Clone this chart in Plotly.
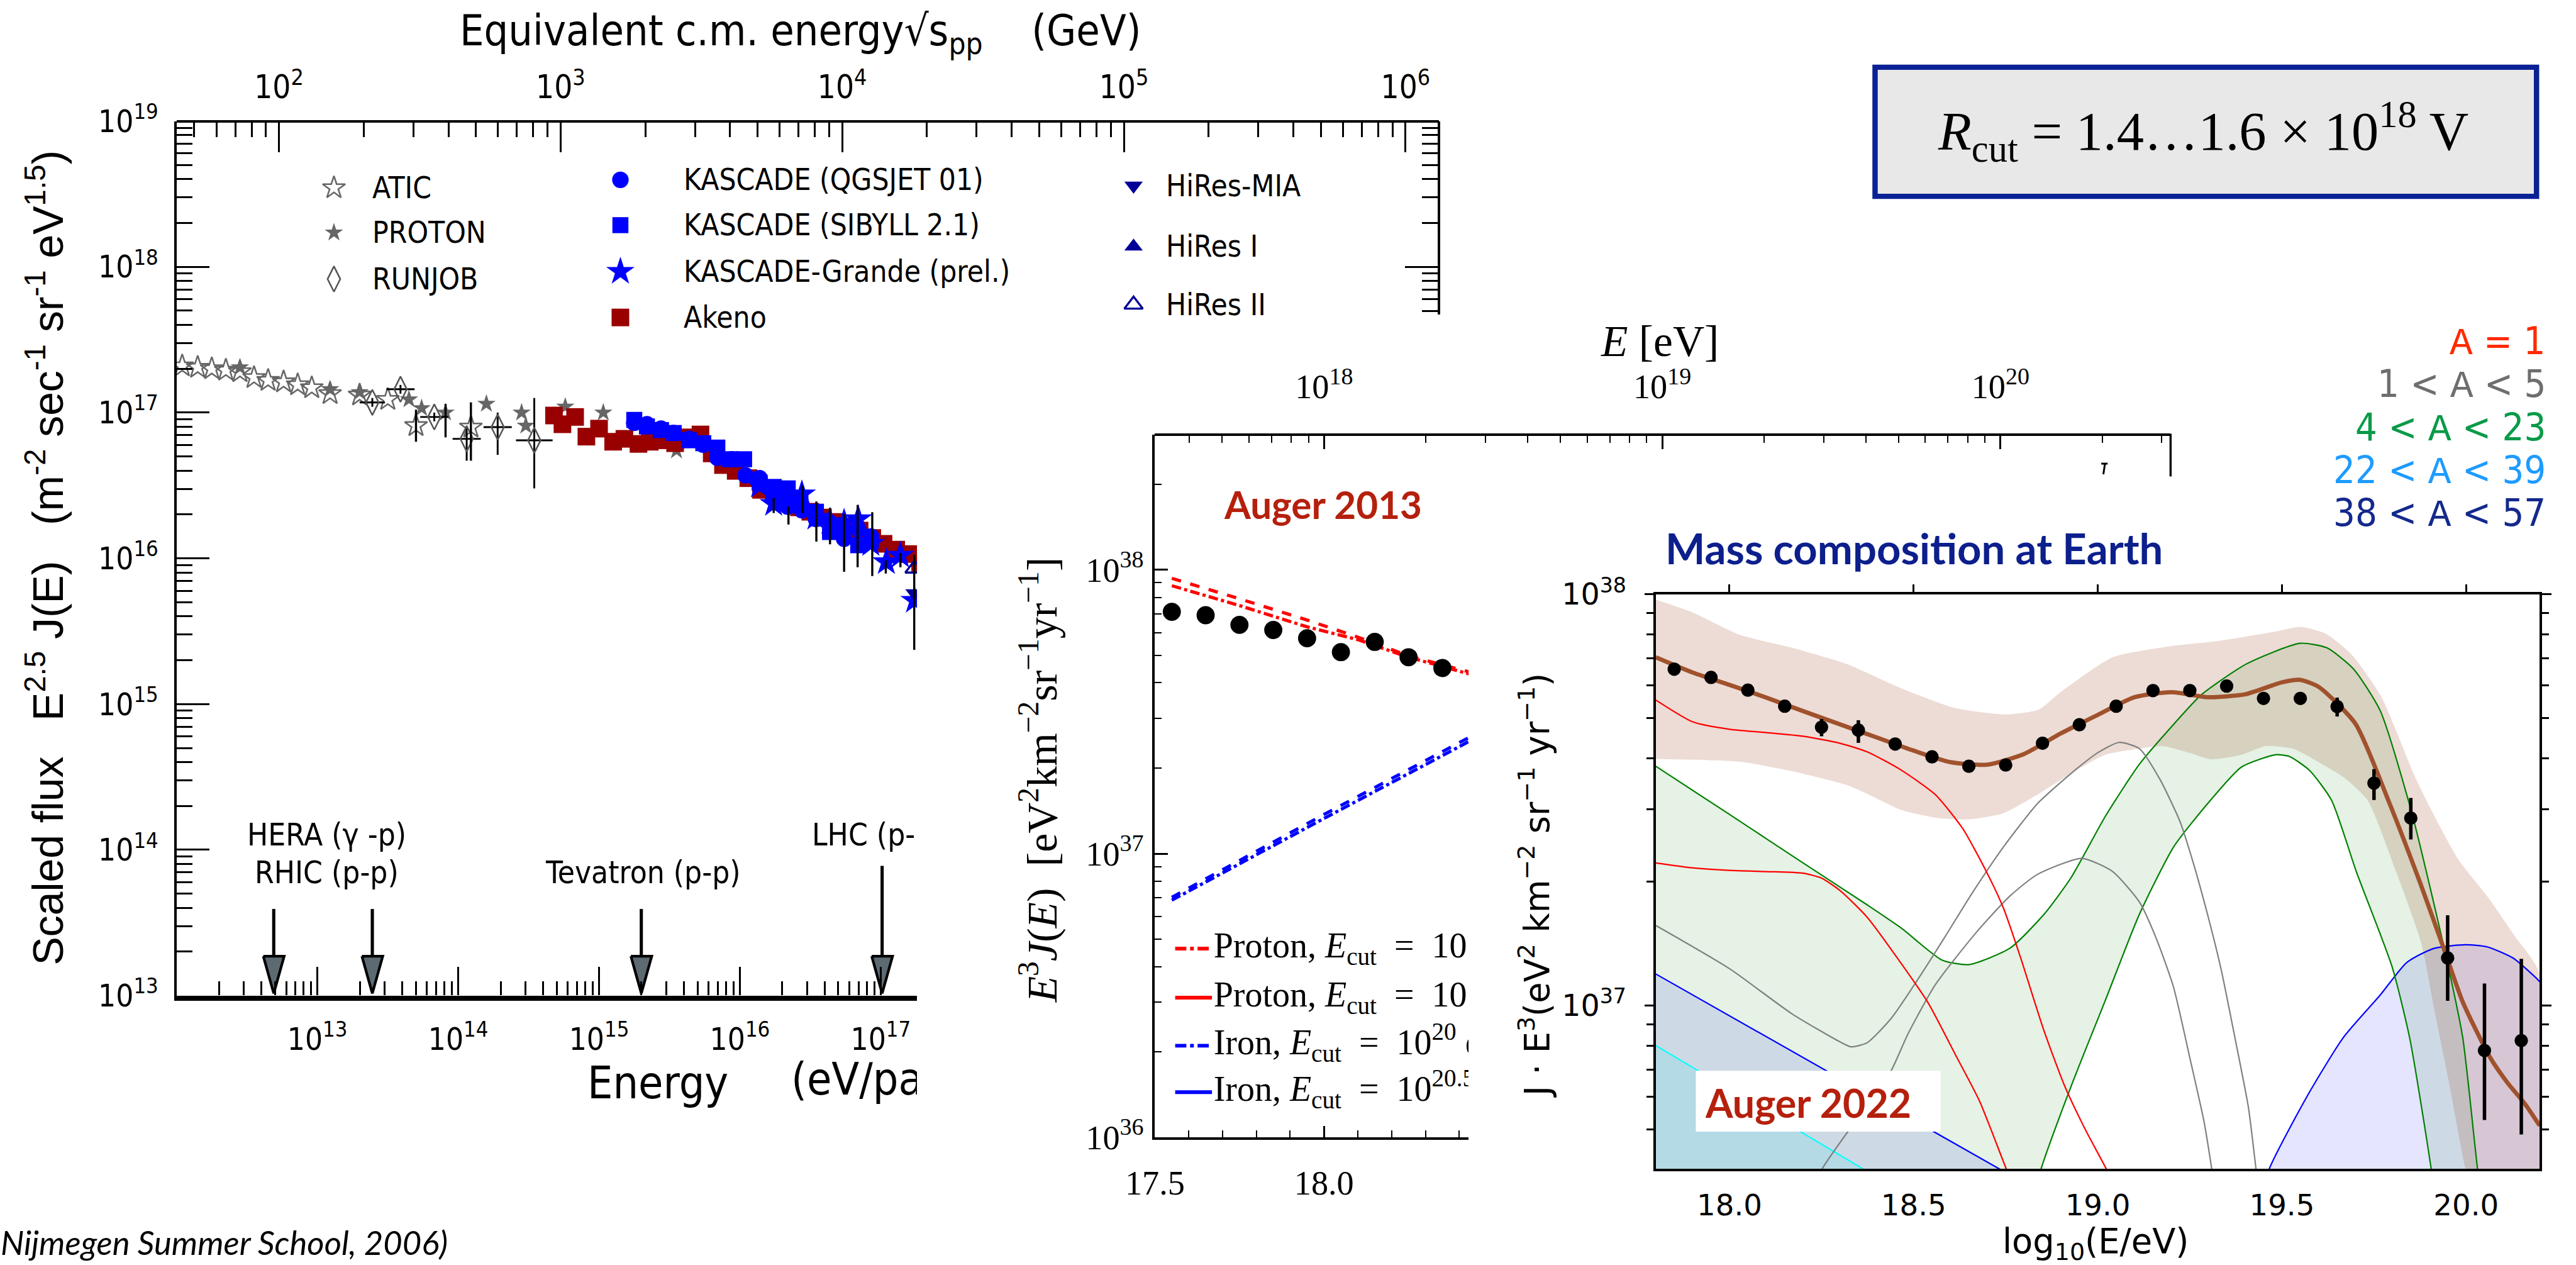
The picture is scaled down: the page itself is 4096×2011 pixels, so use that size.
import numpy as np
import plotly.graph_objects as go

# All positions are laid out on a 4829 x 2371 grid and scaled to the page.
GW, GH = 4829, 2371
K = 4096 / GW


def px(x):
    return x / GW


def py(y):
    return 1 - y / GH


def sz(v):
    return v * K


def si(v):
    return int(round(v * K))


def d(v):
    return np.power(10.0, np.asarray(v, dtype=float))


NARROW = "Liberation Sans Narrow, DejaVu Sans Condensed, Liberation Sans, Arial, sans-serif"
HELV = "Liberation Sans, Arial, sans-serif"
SERIF = "Liberation Serif, DejaVu Serif, serif"
DJV = "DejaVu Sans, sans-serif"
HUMAN = "Lato, Open Sans, sans-serif"
MONO = "Liberation Mono, DejaVu Sans Mono, monospace"

# ---------------- left panel: scaled flux E^2.5 J(E) (log10 values) ----------------
atic_lgE = [12.04, 12.15, 12.25, 12.35, 12.45, 12.55, 12.65, 12.76, 12.86, 12.96, 13.09, 13.30, 13.50, 13.70, 14.09]
atic_lgF = [17.32, 17.31, 17.30, 17.29, 17.28, 17.24, 17.22, 17.21, 17.19, 17.17, 17.13, 17.12, 17.09, 16.91, 16.90]

proton_lgE = [12.45, 13.09, 13.30, 13.65, 13.74, 13.91, 14.20, 14.45, 14.48, 14.76, 15.03, 15.55]
proton_lgF = [17.31, 17.16, 17.14, 17.09, 17.03, 17.00, 17.06, 17.00, 16.91, 17.04, 17.00, 16.74]

runjob_lgE = [13.39, 13.59, 13.83, 14.06, 14.28, 14.54]
runjob_lgF = [17.07, 17.16, 16.97, 16.82, 16.90, 16.81]
runjob_dlgE = [0.09, 0.10, 0.10, 0.10, 0.10, 0.13]
runjob_lgF_lo = [17.04, 17.13, 16.94, 16.67, 16.71, 16.48]
runjob_lgF_hi = [17.10, 17.19, 17.00, 16.91, 17.00, 17.10]

akeno_lgE = [14.68, 14.74, 14.83, 14.91, 15.00, 15.10, 15.18, 15.28, 15.36, 15.45, 15.54, 15.63, 15.72,
             15.80, 15.88, 15.97, 16.06, 16.15, 16.24, 16.33, 16.42, 16.50, 16.59, 16.67, 16.76, 16.85,
             16.94, 17.02, 17.11, 17.20, 17.28]
akeno_lgF = [16.98, 16.92, 16.97, 16.835, 16.89, 16.80, 16.82, 16.785, 16.80, 16.81, 16.79, 16.83, 16.85,
             16.72, 16.64, 16.60, 16.55, 16.47, 16.45, 16.40, 16.35, 16.32, 16.28, 16.25, 16.22, 16.19,
             16.14, 16.10, 16.06, 16.03, 15.96]

kq_lgE = [15.25, 15.34, 15.44, 15.53, 15.64, 15.74, 15.84, 15.94, 16.04, 16.14, 16.24, 16.34, 16.44,
          16.54, 16.64, 16.74, 16.84, 16.93]
kq_lgF = [16.93, 16.92, 16.89, 16.86, 16.82, 16.78, 16.69, 16.68, 16.57, 16.55, 16.41, 16.355, 16.33,
          16.27, 16.245, 16.134, 16.20, 16.15]

ks_lgE = [15.25, 15.34, 15.44, 15.53, 15.64, 15.74, 15.84, 15.93, 16.03, 16.14, 16.24, 16.34, 16.43,
          16.54, 16.64, 16.73, 16.84, 16.93]
ks_lgF = [16.95, 16.905, 16.88, 16.86, 16.81, 16.79, 16.76, 16.68, 16.68, 16.52, 16.49, 16.48, 16.39,
          16.32, 16.18, 16.21, 16.09, 16.12]

kg_lgE = [16.14, 16.24, 16.34, 16.44, 16.54, 16.64, 16.74, 16.84, 16.93, 17.04, 17.14, 17.24]
kg_lgF = [16.50, 16.375, 16.40, 16.44, 16.28, 16.25, 16.245, 16.27, 16.10, 15.975, 16.02, 15.71]

hires_mia_lgE = [17.24, 17.33]
hires_mia_lgF = [15.76, 15.80]
hires2_lgE = [17.24, 17.36]
hires2_lgF = [15.93, 15.85]

# vertical error bars (log10 E, log10 low, log10 high)
errbar_lgE = [13.70, 13.91, 14.09, 16.24, 16.345, 16.445, 16.543, 16.64, 16.74, 16.836, 16.94, 17.036, 17.14, 17.238]
errbar_lo = [16.80, 16.83, 16.67, 16.311, 16.232, 16.311, 16.115, 16.097, 15.908, 15.939, 15.878, 15.896, 15.939, 15.372]
errbar_hi = [17.02, 17.06, 17.07, 16.414, 16.354, 16.500, 16.390, 16.347, 16.305, 16.366, 16.317, 15.988, 16.036, 16.024]

# accelerator equivalent energies (log10 eV) and arrow shaft tops (log10 flux)
accel_lgE = [12.69, 13.39, 15.30, 17.01]
accel_top = [13.594, 13.594, 13.594, 13.890]
HEAD_TOP, HEAD_TIP, HEAD_HALF = 13.27, 13.015, 0.074

# ---------------- middle panel: Auger 2013 with proton / iron fits ----------------
a13_lgE = [17.55, 17.65, 17.75, 17.85, 17.95, 18.05, 18.15, 18.25, 18.35]
a13_lgJ = [37.852, 37.840, 37.806, 37.788, 37.759, 37.710, 37.746, 37.692, 37.654]

fit_lgE = [17.55, 17.75, 17.95, 18.10, 18.25, 18.43]
proton_a_lgJ = [37.970, 37.898, 37.823, 37.763, 37.697, 37.640]
proton_b_lgJ = [37.944, 37.874, 37.799, 37.754, 37.692, 37.633]
iron_lgE = [17.55, 18.00, 18.43]
iron_a_lgJ = [36.846, 37.138, 37.410]
iron_b_lgJ = [36.836, 37.124, 37.396]

# ---------------- right panel: Auger 2022, mass composition at Earth ----------------
a22_lgE = [17.85, 17.95, 18.05, 18.15, 18.25, 18.35, 18.45, 18.55, 18.65, 18.75, 18.85, 18.95,
           19.05, 19.15, 19.25, 19.35, 19.45, 19.55, 19.65, 19.75, 19.85, 19.95, 20.05, 20.15]
a22_lgJ = [37.818, 37.798, 37.767, 37.728, 37.677, 37.670, 37.636, 37.605, 37.582, 37.585, 37.638, 37.683,
           37.728, 37.766, 37.766, 37.777, 37.747, 37.747, 37.727, 37.541, 37.456, 37.116, 36.891, 36.915]
a22_lgJ_lo = [37.818, 37.798, 37.767, 37.728, 37.655, 37.639, 37.636, 37.605, 37.582, 37.585, 37.638, 37.683,
              37.728, 37.766, 37.766, 37.777, 37.747, 37.735, 37.703, 37.500, 37.404, 37.012, 36.722, 36.687]
a22_lgJ_hi = [37.818, 37.798, 37.767, 37.728, 37.697, 37.694, 37.636, 37.605, 37.582, 37.585, 37.638, 37.683,
              37.728, 37.766, 37.766, 37.777, 37.747, 37.757, 37.749, 37.575, 37.505, 37.220, 37.054, 37.114]

total_lgE = [17.8, 17.9, 18.0, 18.1, 18.2, 18.3, 18.4, 18.5, 18.6, 18.7, 18.8, 18.9, 19.0, 19.1, 19.2,
             19.3, 19.4, 19.5, 19.55, 19.6, 19.7, 19.789, 19.876, 19.943, 19.991, 20.064, 20.112, 20.16, 20.2]
total_lgJ = [37.847, 37.810, 37.780, 37.749, 37.716, 37.684, 37.652, 37.620, 37.592, 37.586, 37.612, 37.662,
             37.707, 37.750, 37.762, 37.750, 37.757, 37.786, 37.792, 37.775, 37.685, 37.499, 37.297, 37.130,
             37.009, 36.876, 36.813, 36.761, 36.708]
total_hi_lgE = [17.8, 17.9, 18.03, 18.17, 18.32, 18.46, 18.61, 18.75, 18.84, 18.90, 19.04, 19.19, 19.33,
                19.48, 19.55, 19.62, 19.69, 19.77, 19.86, 19.91, 19.98, 20.06, 20.13, 20.2]
total_hi_lgJ = [37.987, 37.956, 37.901, 37.870, 37.830, 37.774, 37.724, 37.708, 37.72, 37.763, 37.847, 37.873,
                37.887, 37.909, 37.921, 37.904, 37.853, 37.751, 37.559, 37.468, 37.354, 37.263, 37.172, 37.077]
total_lo_lgE = [17.8, 17.9, 18.03, 18.17, 18.32, 18.374, 18.466, 18.559, 18.651, 18.744, 18.836, 18.928,
                19.021, 19.113, 19.178, 19.252, 19.307, 19.390, 19.455, 19.529, 19.594, 19.668, 19.733,
                19.810, 19.878, 19.916, 19.955, 19.998, 20.05, 20.2]
total_lo_lgJ = [37.600, 37.598, 37.593, 37.570, 37.536, 37.515, 37.476, 37.457, 37.453, 37.468, 37.513, 37.565,
                37.610, 37.625, 37.631, 37.614, 37.599, 37.610, 37.631, 37.625, 37.595, 37.555, 37.499,
                37.326, 37.153, 36.980, 36.807, 36.605, 36.45, 36.2]

h_hi_lgE = [17.8, 17.9, 18.0, 18.1, 18.2, 18.3, 18.374, 18.466, 18.559, 18.633, 18.697, 18.744, 18.790,
            18.854, 18.910, 18.965, 19.025, 19.08]
h_hi_lgJ = [37.743, 37.69, 37.672, 37.664, 37.655, 37.638, 37.617, 37.573, 37.513, 37.431, 37.327, 37.237,
            37.118, 36.939, 36.805, 36.701, 36.600, 36.50]
h_lo_lgE = [17.8, 17.9, 18.0, 18.1, 18.2, 18.25, 18.3, 18.374, 18.466, 18.540, 18.614, 18.679, 18.753, 18.8]
h_lo_lgJ = [37.347, 37.335, 37.329, 37.326, 37.322, 37.31, 37.28, 37.215, 37.103, 37.006, 36.880, 36.768,
            36.600, 36.50]

he_hi_lgE = [17.8, 18.0, 18.17, 18.3, 18.33, 18.374, 18.439, 18.513, 18.587, 18.660, 18.744, 18.836, 18.928,
             19.0, 19.058, 19.113, 19.169, 19.224, 19.261, 19.298, 19.335, 19.372, 19.409, 19.430, 19.47]
he_hi_lgJ = [37.195, 37.09, 36.98, 36.912, 36.900, 36.910, 36.969, 37.066, 37.170, 37.275, 37.386, 37.491,
             37.565, 37.615, 37.640, 37.625, 37.550, 37.446, 37.342, 37.222, 37.088, 36.924, 36.753, 36.600, 36.30]
he_lo_lgE = [18.15, 18.252, 18.375, 18.439, 18.485, 18.559, 18.670, 18.762, 18.836, 18.956, 19.039, 19.113,
             19.159, 19.206, 19.252, 19.289, 19.310, 19.35]
he_lo_lgJ = [36.42, 36.604, 36.76, 36.842, 36.932, 37.051, 37.178, 37.267, 37.319, 37.358, 37.327, 37.252,
             37.163, 37.044, 36.865, 36.716, 36.600, 36.35]

n_hi_lgE = [17.8, 18.0, 18.2, 18.374, 18.466, 18.577, 18.651, 18.762, 18.854, 18.928, 19.021, 19.113, 19.206,
            19.28, 19.404, 19.549, 19.622, 19.694, 19.767, 19.852, 19.943, 19.991, 20.031, 20.07]
n_hi_lgJ = [37.582, 37.465, 37.347, 37.245, 37.189, 37.111, 37.100, 37.140, 37.222, 37.312, 37.461, 37.587,
            37.684, 37.755, 37.831, 37.881, 37.870, 37.819, 37.717, 37.471, 37.130, 36.922, 36.605, 36.35]
n_lo_lgE = [18.75, 18.845, 18.928, 19.021, 19.113, 19.206, 19.298, 19.390, 19.483, 19.520, 19.575, 19.635,
            19.702, 19.799, 19.847, 19.905, 19.95]
n_lo_lgJ = [36.25, 36.600, 36.805, 37.014, 37.222, 37.386, 37.491, 37.580, 37.610, 37.606, 37.572, 37.499,
            37.326, 37.095, 36.921, 36.605, 36.30]

si_lgE = [17.8, 18.361, 18.6]
si_lgJ = [36.903, 36.604, 36.48]

fe_left_lgE = [17.8, 18.739, 18.9]
fe_left_lgJ = [37.077, 36.600, 36.52]
fe_right_lgE = [19.40, 19.464, 19.575, 19.668, 19.767, 19.839, 19.912, 19.999, 20.057, 20.129, 20.194, 20.2]
fe_right_lgJ = [36.40, 36.600, 36.790, 36.924, 37.026, 37.105, 37.139, 37.148, 37.143, 37.115, 37.064, 37.058]

FLOOR = 36.2  # below the lower edge of the right panel

group_labels = ["A = 1", "1 < A < 5", "4 < A < 23", "22 < A < 39", "38 < A < 57"]
group_colors = ["#ff2a00", "#6e6e6e", "#0a9a48", "#1e9bff", "#14298c"]

fig = go.Figure()
L = dict(xaxis="x", yaxis="y", hoverinfo="skip")
M = dict(xaxis="x3", yaxis="y3", hoverinfo="skip")
R = dict(xaxis="x5", yaxis="y5", hoverinfo="skip")
C = dict(xaxis="x7", yaxis="y7", hoverinfo="skip")

# ---- left panel marks ----
fig.add_trace(go.Scatter(x=d(atic_lgE), y=d(atic_lgF), mode="markers",
                         marker=dict(symbol="star-open", size=sz(32), color="#666666",
                                     line=dict(width=sz(3), color="#666666")), **L))
fig.add_trace(go.Scatter(x=d(proton_lgE), y=d(proton_lgF), mode="markers",
                         marker=dict(symbol="star", size=sz(26), color="#666666"), **L))
rj_E = d(runjob_lgE)
fig.add_trace(go.Scatter(
    x=rj_E, y=d(runjob_lgF), mode="markers",
    marker=dict(symbol="diamond-tall-open", size=sz(34), color="#555555", line=dict(width=sz(3), color="#555555")),
    error_x=dict(type="data", symmetric=False, array=d(np.add(runjob_lgE, runjob_dlgE)) - rj_E,
                 arrayminus=rj_E - d(np.subtract(runjob_lgE, runjob_dlgE)), thickness=sz(3.5), width=0, color="black"),
    error_y=dict(type="data", symmetric=False, array=d(runjob_lgF_hi) - d(runjob_lgF),
                 arrayminus=d(runjob_lgF) - d(runjob_lgF_lo), thickness=sz(3.5), width=0, color="black"), **L))
fig.add_trace(go.Scatter(x=d(akeno_lgE), y=d(akeno_lgF), mode="markers",
                         marker=dict(symbol="square", size=sz(33), color="#990000"), **L))
fig.add_trace(go.Scatter(x=d(kq_lgE), y=d(kq_lgF), mode="markers",
                         marker=dict(symbol="circle", size=sz(31), color="#0000ff"), **L))
fig.add_trace(go.Scatter(x=d(ks_lgE), y=d(ks_lgF), mode="markers",
                         marker=dict(symbol="square", size=sz(30), color="#0000ff"), **L))
fig.add_trace(go.Scatter(x=d(kg_lgE), y=d(kg_lgF), mode="markers",
                         marker=dict(symbol="star", size=sz(40), color="#0000ff"), **L))
fig.add_trace(go.Scatter(x=d(hires_mia_lgE), y=d(hires_mia_lgF), mode="markers",
                         marker=dict(symbol="triangle-down", size=sz(30), color="#000099"), **L))
fig.add_trace(go.Scatter(x=d(hires2_lgE), y=d(hires2_lgF), mode="markers",
                         marker=dict(symbol="triangle-up-open", size=sz(30), color="#000099",
                                     line=dict(width=sz(4), color="#000099")), **L))
seg_x, seg_y = [], []
for e, lo, hi in zip(errbar_lgE, errbar_lo, errbar_hi):
    seg_x += [10 ** e, 10 ** e, None]
    seg_y += [10 ** lo, 10 ** hi, None]
fig.add_trace(go.Scatter(x=seg_x, y=seg_y, mode="lines", line=dict(color="black", width=sz(4)), **L))

# accelerator arrows
for e, top in zip(accel_lgE, accel_top):
    fig.add_trace(go.Scatter(x=d([e, e]), y=d([top, HEAD_TOP]), mode="lines",
                             line=dict(color="black", width=sz(6)), **L))
    fig.add_trace(go.Scatter(x=d([e - HEAD_HALF, e + HEAD_HALF, e, e - HEAD_HALF]),
                             y=d([HEAD_TOP, HEAD_TOP, HEAD_TIP, HEAD_TOP]), mode="lines", fill="toself",
                             fillcolor="#5d6a72", line=dict(color="black", width=sz(5)), **L))

fig.add_trace(go.Scatter(x=[], y=[], xaxis="x2", yaxis="y2"))

# ---- middle panel marks ----
fig.add_trace(go.Scatter(x=fit_lgE, y=d(proton_a_lgJ), mode="lines",
                         line=dict(color="#ff0000", width=sz(6), dash="dash"), **M))
fig.add_trace(go.Scatter(x=fit_lgE, y=d(proton_b_lgJ), mode="lines",
                         line=dict(color="#ff0000", width=sz(6), dash="dashdot"), **M))
fig.add_trace(go.Scatter(x=iron_lgE, y=d(iron_a_lgJ), mode="lines",
                         line=dict(color="#0000ff", width=sz(6), dash="dash"), **M))
fig.add_trace(go.Scatter(x=iron_lgE, y=d(iron_b_lgJ), mode="lines",
                         line=dict(color="#0000ff", width=sz(6), dash="dashdot"), **M))
fig.add_trace(go.Scatter(x=a13_lgE, y=d(a13_lgJ), mode="markers",
                         marker=dict(symbol="circle", size=sz(34), color="black"), **M))
fig.add_trace(go.Scatter(x=[], y=[], xaxis="x4", yaxis="y3"))


# ---- right panel marks ----
def band(xu, yu, xl, yl):
    return list(xu) + list(xl)[::-1], list(d(yu)) + list(d(yl))[::-1]


def fill_trace(xs, ys, color):
    return go.Scatter(x=xs, y=ys, mode="lines", fill="toself", fillcolor=color,
                      line=dict(width=0, shape="spline", smoothing=0.6), **R)


bx, by = band(si_lgE, si_lgJ, [17.8, 18.6], [FLOOR, FLOOR])
fig.add_trace(fill_trace(bx, by, "rgba(0,255,255,0.12)"))
bx, by = band(fe_left_lgE, fe_left_lgJ, [17.8, 18.9], [FLOOR, FLOOR])
fig.add_trace(fill_trace(bx, by, "rgba(0,0,255,0.10)"))
bx, by = band(fe_right_lgE, fe_right_lgJ, [19.40, 20.2], [FLOOR, FLOOR])
fig.add_trace(fill_trace(bx, by, "rgba(0,0,255,0.10)"))
bx, by = band(n_hi_lgE, n_hi_lgJ, [17.8] + n_lo_lgE + [20.07], [FLOOR] + n_lo_lgJ + [FLOOR])
fig.add_trace(fill_trace(bx, by, "rgba(0,128,0,0.10)"))
bx, by = band(total_hi_lgE, total_hi_lgJ, total_lo_lgE, total_lo_lgJ)
fig.add_trace(fill_trace(bx, by, "rgba(160,82,45,0.20)"))


def curve(xs, ys, color, width):
    return go.Scatter(x=xs, y=d(ys), mode="lines",
                      line=dict(color=color, width=width, shape="spline", smoothing=0.6), **R)


fig.add_trace(curve(si_lgE, si_lgJ, "#00ffff", sz(2.6)))
fig.add_trace(curve(fe_left_lgE, fe_left_lgJ, "#0000ff", sz(2.6)))
fig.add_trace(curve(fe_right_lgE, fe_right_lgJ, "#0000ff", sz(2.6)))
fig.add_trace(curve(n_hi_lgE, n_hi_lgJ, "#008000", sz(2.6)))
fig.add_trace(curve(n_lo_lgE, n_lo_lgJ, "#008000", sz(2.6)))
fig.add_trace(curve(he_hi_lgE, he_hi_lgJ, "#808080", sz(2.6)))
fig.add_trace(curve(he_lo_lgE, he_lo_lgJ, "#808080", sz(2.6)))
fig.add_trace(curve(h_hi_lgE, h_hi_lgJ, "#ff0000", sz(2.6)))
fig.add_trace(curve(h_lo_lgE, h_lo_lgJ, "#ff0000", sz(2.6)))
fig.add_trace(curve(total_lgE, total_lgJ, "#a0522d", sz(8)))
fig.add_trace(go.Scatter(
    x=a22_lgE, y=d(a22_lgJ), mode="markers", marker=dict(symbol="circle", size=sz(25), color="black"),
    error_y=dict(type="data", symmetric=False, array=d(a22_lgJ_hi) - d(a22_lgJ),
                 arrayminus=d(a22_lgJ) - d(a22_lgJ_lo), thickness=sz(6.5), width=0, color="black"), **R))
fig.add_trace(go.Scatter(x=[], y=[], xaxis="x6", yaxis="y5"))

# ---- legend glyphs on the page canvas ----
leg_left = [
    (626, 352, dict(symbol="star-open", size=sz(32), color="#666666", line=dict(width=sz(3), color="#666666"))),
    (626, 436, dict(symbol="star", size=sz(26), color="#666666")),
    (626, 523, dict(symbol="diamond-tall-open", size=sz(34), color="#555555", line=dict(width=sz(3), color="#555555"))),
    (1163, 337, dict(symbol="circle", size=sz(31), color="#0000ff")),
    (1163, 422, dict(symbol="square", size=sz(30), color="#0000ff")),
    (1163, 509, dict(symbol="star", size=sz(40), color="#0000ff")),
    (1163, 595, dict(symbol="square", size=sz(33), color="#990000")),
    (2125, 348, dict(symbol="triangle-down", size=sz(30), color="#000099")),
    (2125, 462, dict(symbol="triangle-up", size=sz(30), color="#000099")),
    (2125, 571, dict(symbol="triangle-up-open", size=sz(30), color="#000099", line=dict(width=sz(4), color="#000099"))),
]
for gx, gy, mk in leg_left:
    fig.add_trace(go.Scatter(x=[gx], y=[gy], mode="markers", marker=mk, **C))

leg_mid = [(1778, "#ff0000", "dashdot"), (1870, "#ff0000", "solid"),
           (1960, "#0000ff", "dashdot"), (2047, "#0000ff", "solid")]
for gy, col, dash in leg_mid:
    fig.add_trace(go.Scatter(x=[2203, 2272], y=[gy, gy], mode="lines",
                             line=dict(color=col, width=sz(7), dash=dash), **C))
# right end of the Auger 2013 energy axis and a stray tick fragment beside it
fig.add_trace(go.Scatter(x=[4069, 4069], y=[813, 893], mode="lines", line=dict(color="black", width=sz(4)), **C))
fig.add_trace(go.Scatter(x=[3939, 3951, None, 3946, 3943], y=[869, 869, None, 869, 889], mode="lines",
                         line=dict(color="black", width=sz(3.5)), **C))

# ---- labels that are cut at the panel edges (clipped text layers) ----
LEFT_CLIP = dict(xaxis="x8", yaxis="y8", hoverinfo="skip", cliponaxis=True)
MID_CLIP = dict(xaxis="x9", yaxis="y8", hoverinfo="skip", cliponaxis=True)


def clipped_text(s, x, y, size, family, where):
    return go.Scatter(x=[x], y=[y], mode="text", text=[s], textposition="middle right",
                      textfont=dict(size=sz(size), family=family, color="black"), **where)


fig.add_trace(clipped_text("LHC (p-p)", 1522, 1570, 58, NARROW, LEFT_CLIP))
fig.add_trace(clipped_text("(eV/particle)", 1483, 2030, 84, NARROW, LEFT_CLIP))
mid_rows = [("Proton, <i>E</i><sub>cut</sub>  =  10", 1778), ("Proton, <i>E</i><sub>cut</sub>  =  10", 1870),
            ("Iron, <i>E</i><sub>cut</sub>  =  10<sup>20</sup> e", 1960),
            ("Iron, <i>E</i><sub>cut</sub>  =  10<sup>20.5</sup>", 2047)]
for s, gy in mid_rows:
    fig.add_trace(clipped_text(s, 2275, gy, 66, SERIF, MID_CLIP))


# ---- axes ----
def minors(lo, hi):
    return [m * 10.0 ** e for e in range(lo, hi) for m in range(2, 10)]


def pw(n):
    return "10<sup>%d</sup>" % n


base = dict(showgrid=False, zeroline=False, linecolor="black", tickcolor="black")

xaxis = dict(base, type="log", range=[12, 12 + (1719 - 331) / 264], domain=[px(331), px(1719)], anchor="y",
             showline=True, linewidth=sz(10), ticks="inside", ticklen=sz(53), tickwidth=sz(3.5),
             tickvals=[10.0 ** n for n in range(13, 18)], ticktext=[pw(n) for n in range(13, 18)],
             tickfont=dict(family=NARROW, size=sz(58), color="black"), ticklabelstandoff=si(22),
             minor=dict(tickvals=minors(12, 18), ticks="inside", ticklen=sz(27), tickwidth=sz(3), tickcolor="black"))
yaxis = dict(base, type="log", range=[13, 19], domain=[py(1866), py(227)], anchor="x",
             showline=True, linewidth=sz(5), ticks="inside", ticklen=sz(62), tickwidth=sz(3.5),
             tickvals=[10.0 ** n for n in range(13, 20)], ticktext=[pw(n) for n in range(13, 20)],
             tickfont=dict(family=NARROW, size=sz(58), color="black"), ticklabelstandoff=si(18),
             minor=dict(tickvals=minors(13, 19), ticks="inside", ticklen=sz(30), tickwidth=sz(3), tickcolor="black"))
# centre-of-mass energy sqrt(s) = sqrt(2 m_p E) for the same energy span
M_P = 0.938272e9
E_LEFT, E_RIGHT = 12.0, 12.0 + (2698 - 331) / 264
sqs_range = [0.5 * (np.log10(2 * M_P) + E_LEFT) - 9, 0.5 * (np.log10(2 * M_P) + E_RIGHT) - 9]
xaxis2 = dict(base, type="log", range=sqs_range, domain=[px(331), px(2698)], anchor="free", position=py(227),
              side="top", showline=True, linewidth=sz(5), ticks="inside", ticklen=sz(56), tickwidth=sz(3.5),
              tickvals=[10.0 ** n for n in range(2, 7)], ticktext=[pw(n) for n in range(2, 7)],
              tickfont=dict(family=NARROW, size=sz(60), color="black"), ticklabelstandoff=si(16),
              minor=dict(tickvals=minors(1, 7), ticks="inside", ticklen=sz(28), tickwidth=sz(3), tickcolor="black"))
yaxis2 = dict(base, type="log", range=[19 - (590 - 227) / 273.2, 19], domain=[py(590), py(227)], anchor="free",
              position=px(2698), side="right", showline=True, linewidth=sz(5), ticks="inside", ticklen=sz(62),
              tickwidth=sz(3.5), tickvals=[1e18, 1e19], showticklabels=False,
              minor=dict(tickvals=minors(17, 19), ticks="inside", ticklen=sz(30), tickwidth=sz(3), tickcolor="black"))

xaxis3 = dict(base, range=[17.5, 17.5 + (2753 - 2165) / 634], domain=[px(2165), px(2753)], anchor="y3",
              showline=True, linewidth=sz(4.5), ticks="inside", ticklen=sz(22), tickwidth=sz(3),
              tickvals=[17.5, 18.0], ticktext=["17.5", "18.0"],
              tickfont=dict(family=SERIF, size=sz(64), color="black"), ticklabelstandoff=si(26),
              minor=dict(tick0=17.5, dtick=0.1, ticks="inside", ticklen=sz(13), tickwidth=sz(2.5), tickcolor="black"))
yaxis3 = dict(base, type="log", range=[36, 36 + (2132 - 815) / 532], domain=[py(2132), py(815)], anchor="x3",
              showline=True, linewidth=sz(4.5), ticks="inside", ticklen=sz(25), tickwidth=sz(3),
              tickvals=[1e36, 1e37, 1e38], ticktext=[pw(36), pw(37), pw(38)],
              tickfont=dict(family=SERIF, size=sz(64), color="black"), ticklabelstandoff=si(4),
              minor=dict(tickvals=minors(36, 39), ticks="inside", ticklen=sz(13), tickwidth=sz(2.5), tickcolor="black"))
xaxis4 = dict(base, type="log", range=[17.5, 17.5 + (4069 - 2165) / 634], domain=[px(2165), px(4069)],
              anchor="free", position=py(815), side="top", showline=True, linewidth=sz(5), ticks="inside",
              ticklen=sz(24), tickwidth=sz(3), tickvals=[1e18, 1e19, 1e20], ticktext=[pw(18), pw(19), pw(20)],
              tickfont=dict(family=SERIF, size=sz(64), color="black"), ticklabelstandoff=si(40),
              minor=dict(tickvals=minors(17, 21), ticks="inside", ticklen=sz(13), tickwidth=sz(2.5), tickcolor="black"))

xaxis5 = dict(base, range=[17.8, 20.2], domain=[px(3104), px(4761)], anchor="y5", showline=True, mirror=True,
              linewidth=sz(4.5), ticks="", tickvals=[18.0, 18.5, 19.0, 19.5, 20.0],
              ticktext=["18.0", "18.5", "19.0", "19.5", "20.0"],
              tickfont=dict(family=DJV, size=sz(55), color="black"), ticklabelstandoff=si(16))
xaxis6 = dict(base, range=[17.8, 20.2], domain=[px(3104), px(4761)], anchor="y5", overlaying="x5", side="top",
              showline=False, ticks="outside", ticklen=sz(17), tickwidth=sz(3),
              tickvals=[18.0, 18.5, 19.0, 19.5, 20.0], showticklabels=False)
yaxis5 = dict(base, type="log", range=[36.603, 38], domain=[py(2191), py(1114)], anchor="x5", showline=True,
              mirror="ticks", linewidth=sz(4.5), ticks="outside", ticklen=sz(17), tickwidth=sz(3),
              tickvals=[1e37, 1e38], ticktext=[pw(37), pw(38)],
              tickfont=dict(family=DJV, size=sz(56), color="black"), ticklabelstandoff=si(22),
              minor=dict(tickvals=minors(36, 38), ticks="outside", ticklen=sz(13), tickwidth=sz(3), tickcolor="black"))

xaxis7 = dict(range=[0, GW], domain=[0, 1], anchor="y7", visible=False, fixedrange=True)
yaxis7 = dict(range=[GH, 0], domain=[0, 1], anchor="x7", visible=False, fixedrange=True)
xaxis8 = dict(range=[0, 1719], domain=[0, px(1719)], anchor="y8", visible=False, fixedrange=True)
xaxis9 = dict(range=[1719, 2753], domain=[px(1719), px(2753)], anchor="y8", visible=False, fixedrange=True)
yaxis8 = dict(range=[GH, 0], domain=[0, 1], anchor="x8", visible=False, fixedrange=True)


# ---- text ----
def note(s, x, y, size, family, color="black", xa="left", ya="middle", angle=0):
    return dict(text=s, x=px(x), y=py(y), xref="paper", yref="paper", xanchor=xa, yanchor=ya,
                align=("center" if xa == "center" else xa), borderpad=0,
                showarrow=False, textangle=angle, font=dict(size=sz(size), family=family, color=color))


ann = [
    note("Equivalent c.m. energy√s<sub>pp</sub>    (GeV)", 861, 62, 80, NARROW),
    note("Scaled flux   E<sup>2.5</sup> J(E)   (m<sup>-2</sup> sec<sup>-1</sup> sr<sup>-1</sup> eV<sup>1.5</sup>)",
         85, 1045, 80, HELV, xa="center", angle=-90),
    note("ATIC", 697, 352, 56, NARROW), note("PROTON", 697, 436, 56, NARROW), note("RUNJOB", 697, 523, 56, NARROW),
    note("KASCADE (QGSJET 01)", 1280, 337, 56, NARROW), note("KASCADE (SIBYLL 2.1)", 1280, 422, 56, NARROW),
    note("KASCADE-Grande (prel.)", 1280, 509, 56, NARROW), note("Akeno", 1280, 595, 56, NARROW),
    note("HiRes-MIA", 2185, 348, 56, NARROW), note("HiRes I", 2185, 462, 56, NARROW),
    note("HiRes II", 2185, 571, 56, NARROW),
    note("HERA (γ -p)", 612, 1564, 58, NARROW, xa="center"),
    note("RHIC (p-p)", 612, 1635, 58, NARROW, xa="center"),
    note("Tevatron (p-p)", 1205, 1635, 58, NARROW, xa="center"),
    note("Energy", 1100, 2030, 84, NARROW),
    note("<i>Nijmegen Summer School, 2006)</i>", 0, 2328, 62, HUMAN),
    # middle panel
    note("<i>E</i> [eV]", 3111, 640, 82, SERIF, xa="center"),
    note("<b>Auger 2013</b>", 2293, 945, 71, HUMAN, color="#b5200d"),
    note("<i>E</i><sup>3</sup><i>J</i>(<i>E</i>)  [eV<sup>2</sup>km<sup>−2</sup>sr<sup>−1</sup>yr<sup>−1</sup>]",
         1948, 1462, 80, SERIF, xa="center", angle=-90),
    # right panel
    note("<b>Mass composition at Earth</b>", 3121, 1027, 79, HUMAN, color="#0c1f8c"),
    note("J · E<sup>3</sup>(eV<sup>2</sup> km<sup>−2</sup> sr<sup>−1</sup> yr<sup>−1</sup>)", 2878, 1660, 64, DJV,
         xa="center", angle=-90),
    note("log<sub>10</sub>(E/eV)", 3929, 2331, 64, DJV, xa="center"),
    note("<b>Auger 2022</b>", 3195, 2066, 74, HUMAN, color="#b5200d"),
    note("<i>R</i><sub>cut</sub> = 1.4…1.6 × 10<sup>18</sup> V", 4130, 247, 102, SERIF, xa="center"),
]
for (lab, col), gy in zip(zip(group_labels, group_colors), [641, 721, 802, 882, 963]):
    s = lab.replace("A", '<span style="font-family:%s">A</span>' % MONO)
    ann.append(note(s, 4774, gy, 72, NARROW, color=col, xa="right"))

shapes = [
    dict(type="rect", xref="paper", yref="paper", x0=px(3179), x1=px(3638), y0=py(2121), y1=py(2007),
         fillcolor="white", line=dict(width=0), layer="above"),
    dict(type="rect", xref="paper", yref="paper", x0=px(3515), x1=px(4755), y0=py(368), y1=py(126),
         fillcolor="#e8e8e8", line=dict(color="#0a2196", width=sz(10)), layer="above"),
]

fig.update_layout(
    width=4096, height=2011, margin=dict(l=0, r=0, t=0, b=0, autoexpand=False),
    paper_bgcolor="white", plot_bgcolor="rgba(0,0,0,0)", showlegend=False,
    xaxis=xaxis, yaxis=yaxis, xaxis2=xaxis2, yaxis2=yaxis2, xaxis3=xaxis3, yaxis3=yaxis3, xaxis4=xaxis4,
    xaxis5=xaxis5, xaxis6=xaxis6, yaxis5=yaxis5, xaxis7=xaxis7, yaxis7=yaxis7,
    xaxis8=xaxis8, xaxis9=xaxis9, yaxis8=yaxis8,
    annotations=ann, shapes=shapes,
)

fig.write_html("out.html")
